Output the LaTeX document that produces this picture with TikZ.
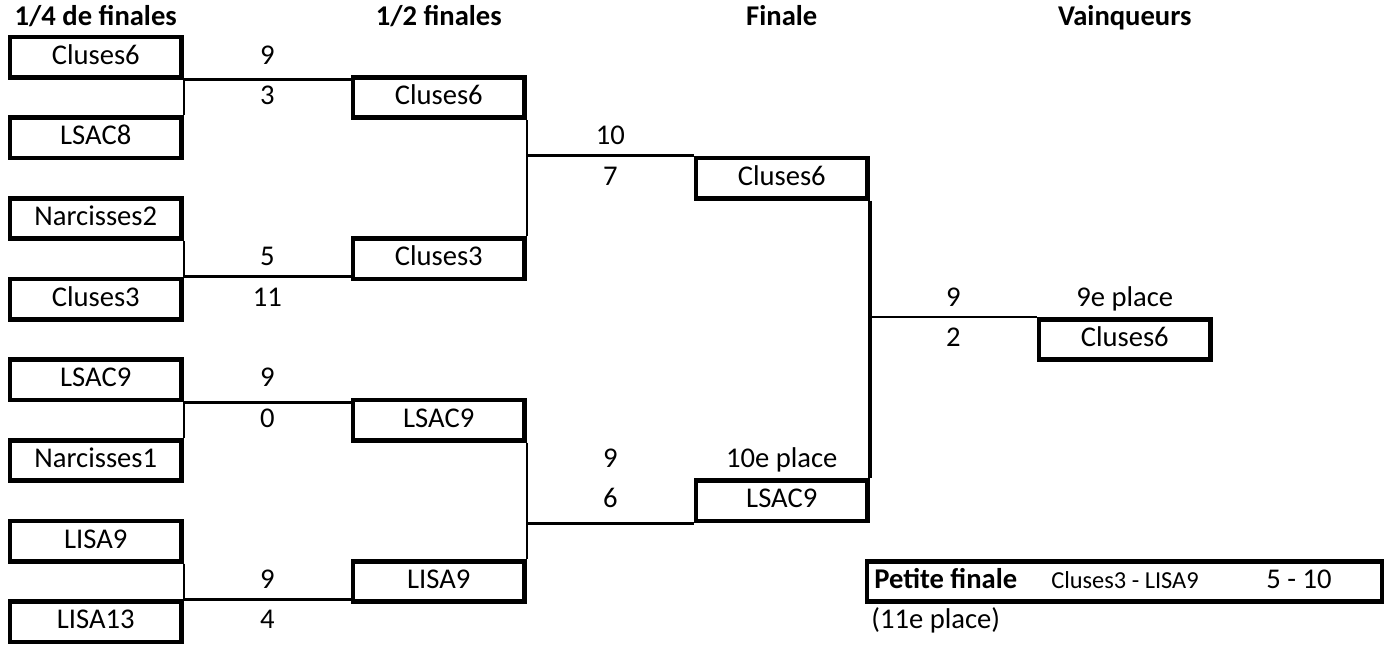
\documentclass[tikz,border=0pt]{standalone}
\usepackage{fontspec}
\setmainfont{Carlito}

\begin{document}
\begin{tikzpicture}[x=0.5pt, y=-0.5pt,
    team/.style={draw, line width=2.3pt, minimum width=85.75pt, minimum height=20.17pt,
                 inner sep=0pt, text height=10pt, text depth=3pt,
                 font=\fontsize{14.3}{17}\selectfont},
    score/.style={inner sep=0pt, text height=10pt, text depth=3pt,
                  font=\fontsize{14.3}{17}\selectfont},
    round/.style={inner sep=0pt, text height=10pt, text depth=3pt,
                  font=\fontsize{14.3}{17}\selectfont\bfseries},
    link/.style={line width=1.3pt},
    stem/.style={line width=0.9pt}]
    \useasboundingbox (0,0) rectangle (1387,650);

    % titres des tours
    \node[round] (h1) at (95.75,18) {1/4 de finales};
    \node[round] (h2) at (438.75,18) {1/2 finales};
    \node[round] (h3) at (781.75,18) {Finale};
    \node[round] (h4) at (1124.75,18) {Vainqueurs};

    % 1/4 de finales
    \node[team] (q1) at (95.75,57.2) {Cluses6};
    \node[team] (q2) at (95.75,137.8) {LSAC8};
    \node[team] (q3) at (95.75,218.5) {Narcisses2};
    \node[team] (q4) at (95.75,299.1) {Cluses3};
    \node[team] (q5) at (95.75,379.8) {LSAC9};
    \node[team] (q6) at (95.75,460.5) {Narcisses1};
    \node[team] (q7) at (95.75,541.1) {LISA9};
    \node[team] (q8) at (95.75,621.8) {LISA13};

    \node[score] (sq1a) at (267.25,57.2) {9};
    \node[score] (sq1b) at (267.25,97.5) {3};
    \node[score] (sq2a) at (267.25,258.8) {5};
    \node[score] (sq2b) at (267.25,299.1) {11};
    \node[score] (sq3a) at (267.25,379.8) {9};
    \node[score] (sq3b) at (267.25,420.1) {0};
    \node[score] (sq4a) at (267.25,581.5) {9};
    \node[score] (sq4b) at (267.25,621.8) {4};

    % 1/2 finales
    \node[team] (s1) at (438.75,97.5) {Cluses6};
    \node[team] (s2) at (438.75,258.8) {Cluses3};
    \node[team] (s3) at (438.75,420.1) {LSAC9};
    \node[team] (s4) at (438.75,581.5) {LISA9};

    \node[score] (ss1a) at (610.25,137.8) {10};
    \node[score] (ss1b) at (610.25,178.2) {7};
    \node[score] (ss2a) at (610.25,460.5) {9};
    \node[score] (ss2b) at (610.25,500.8) {6};

    % finale
    \node[team] (f1) at (781.75,178.2) {Cluses6};
    \node[team] (f2) at (781.75,500.8) {LSAC9};
    \node[score] (p10) at (781.75,460.5) {10e place};

    \node[score] (sfa) at (953.25,299.1) {9};
    \node[score] (sfb) at (953.25,339.5) {2};

    % vainqueur
    \node[score] (p9) at (1124.75,299.1) {9e place};
    \node[team] (w) at (1124.75,339.5) {Cluses6};

    % petite finale
    \node[team, minimum width=257.5pt] (pf) at (1124.5,581.5) {};
    \node[round, anchor=west] (pft) at (874,581.5) {Petite finale};
    \node[score, font=\fontsize{12.2}{14}\selectfont] (pfm) at (1125,581.5) {Cluses3 - LISA9};
    \node[score] (pfs) at (1299,581.5) {5 - 10};
    \node[score, anchor=west] (p11) at (871,621.8) {(11e place)};

    % liaisons
    \draw[stem] (q1.south east) -- (q2.north east);
    \draw[link] (q1.south east) -- (q1.south east -| s1.west);
    \draw[stem] (q3.south east) -- (q4.north east);
    \draw[link] (q4.north east) -- (q4.north east -| s2.west);
    \draw[stem] (q5.south east) -- (q6.north east);
    \draw[link] (q5.south east) -- (q5.south east -| s3.west);
    \draw[stem] (q7.south east) -- (q8.north east);
    \draw[link] (q8.north east) -- (q8.north east -| s4.west);

    \draw[stem] (s1.south east) -- (s2.north east);
    \draw[link] (s1.south east |- f1.north west) -- (f1.north west);
    \draw[stem] (s3.south east) -- (s4.north east);
    \draw[link] (s3.south east |- f2.south west) -- (f2.south west);

    \draw[line width=2pt] (f1.south east) -- (f2.north east);
    \draw[link] (f1.south east |- w.north west) -- (w.north west);
\end{tikzpicture}
\end{document}
